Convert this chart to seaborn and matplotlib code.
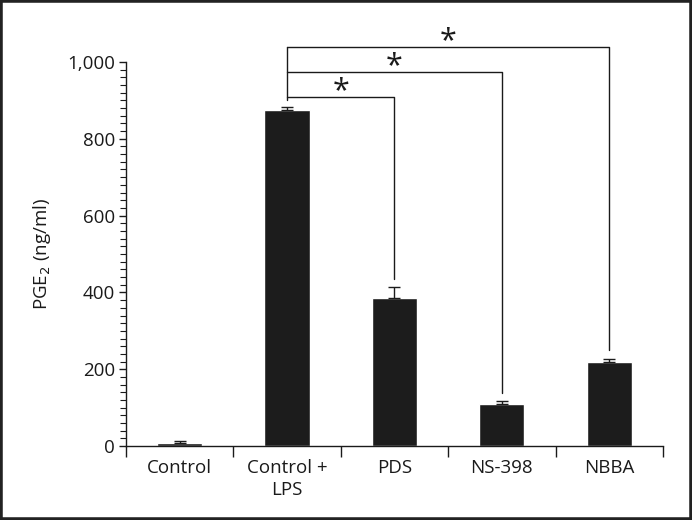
import matplotlib
matplotlib.use("Agg")
import matplotlib.pyplot as plt
from matplotlib.patches import Rectangle
from matplotlib.ticker import MultipleLocator, FixedLocator, NullFormatter
import seaborn as sns
import pandas as pd

categories = ["Control", "Control +\nLPS", "PDS", "NS-398", "NBBA"]
values = [9, 876, 385, 109, 218]
errors = [4, 7, 29, 8, 10]

# significance brackets: (from index, to index, bracket level)
bracket_pairs = [(1, 2), (1, 3), (1, 4)]
bracket_levels = [909, 974, 1039]
bracket_labels = ["*", "*", "*"]

sns.set_theme(style="white")
plt.rcParams["font.family"] = ["Open Sans", "DejaVu Sans"]

fig = plt.figure(figsize=(6.92, 5.2), dpi=100)
ax = fig.add_axes([0.182, 0.142, 0.776, 0.739])

df = pd.DataFrame({"cat": categories, "val": values})
sns.barplot(data=df, x="cat", y="val", color="#1c1c1c", width=0.42,
            saturation=1, ax=ax, errorbar=None)

ax.errorbar(range(len(values)), values, yerr=[[0] * len(errors), errors],
            fmt="none", ecolor="#1c1c1c", elinewidth=1.0, capsize=4, capthick=1.0)

ax.set_xlim(-0.5, len(categories) - 0.5)
ax.set_ylim(0, 1000)
ax.yaxis.set_major_locator(MultipleLocator(200))
ax.yaxis.set_minor_locator(MultipleLocator(20))
ax.set_yticklabels([f"{int(v):,}" for v in ax.get_yticks()])

fs = 13.5
ax.xaxis.set_minor_locator(FixedLocator([i - 0.5 for i in range(len(categories) + 1)]))
ax.xaxis.set_minor_formatter(NullFormatter())
ax.tick_params(axis="x", which="major", length=0, pad=9, labelsize=fs, colors="#1a1a1a")
ax.tick_params(axis="x", which="minor", direction="out", length=8, width=1, color="#1a1a1a", bottom=True)
ax.tick_params(axis="y", which="major", direction="out", length=5, width=1, color="#1a1a1a",
               labelsize=fs, labelcolor="#1a1a1a", left=True, pad=3)
ax.tick_params(axis="y", which="minor", direction="out", length=4, width=0.8, color="#1a1a1a", left=True)
for t in ax.get_xticklabels():
    t.set_linespacing(1.3)

for s in ["top", "right"]:
    ax.spines[s].set_visible(False)
for s in ["left", "bottom"]:
    ax.spines[s].set_color("#1a1a1a")
    ax.spines[s].set_linewidth(1.0)

ax.set_xlabel("")
ax.set_ylabel("PGE$_2$ (ng/ml)", fontsize=fs, color="#1a1a1a", labelpad=10)

# brackets
left_top = max(bracket_levels)
for (i, j), lvl, lab in zip(bracket_pairs, bracket_levels, bracket_labels):
    end = values[j] + errors[j] + 22
    ax.plot([i, j, j], [lvl, lvl, end], color="#1a1a1a", lw=1.0, clip_on=False)
    ax.annotate(lab, xy=((i + j) / 2, lvl), xytext=(0, -7), textcoords="offset points",
                ha="center", va="bottom", fontsize=22, color="#1a1a1a",
                annotation_clip=False)
ax.plot([1, 1], [left_top, values[1] + errors[1] + 18], color="#1a1a1a", lw=1.0, clip_on=False)

fig.add_artist(Rectangle((0, 0), 1, 1, transform=fig.transFigure, fill=False,
                         lw=4, edgecolor="#222222"))

fig.savefig("out.png", dpi=100)
